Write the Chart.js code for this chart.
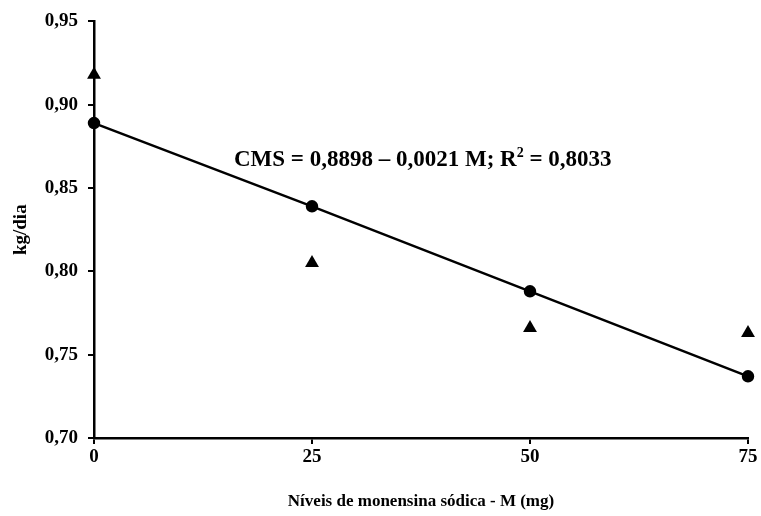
<!DOCTYPE html>
<html>
<head>
<meta charset="utf-8">
<script src="https://cdn.jsdelivr.net/npm/chart.js@4/dist/chart.umd.min.js"></script>
<style>
  html, body { margin: 0; padding: 0; background: #fff; }
  #wrap { width: 761px; height: 516px; }
</style>
</head>
<body>
<div id="wrap"><canvas id="chart" width="761" height="516"></canvas></div>
<script>
const levels = [0, 25, 50, 75];
const observed = [0.918, 0.805, 0.766, 0.763];
const fitted = [0.889, 0.839, 0.788, 0.737];
const yTicks = [0.70, 0.75, 0.80, 0.85, 0.90, 0.95];

const FONT = "'Liberation Serif', 'Times New Roman', serif";

function toPoints(xs, ys) {
  return xs.map((x, i) => ({ x: x, y: ys[i] }));
}

// equation label with superscript 2
const equationPlugin = {
  id: "equation",
  afterDatasetsDraw(chart) {
    const ctx = chart.ctx;
    const parts = [
      { t: "CMS = 0,8898 \u2013 0,0021 M; R", sup: false },
      { t: "2", sup: true },
      { t: " = 0,8033", sup: false }
    ];
    ctx.save();
    ctx.fillStyle = "#000";
    ctx.textBaseline = "alphabetic";
    let x = 234;
    const y = 166;
    parts.forEach((p) => {
      ctx.font = "bold " + (p.sup ? 14 : 23) + "px " + FONT;
      ctx.fillText(p.t, x, p.sup ? y - 9 : y);
      x += ctx.measureText(p.t).width;
    });
    ctx.restore();
  }
};

new Chart(document.getElementById("chart"), {
  type: "scatter",
  data: {
    datasets: [
      {
        label: "observado",
        data: toPoints(levels, observed),
        pointStyle: "triangle",
        pointRadius: 8,
        backgroundColor: "#000",
        borderColor: "#000",
        borderWidth: 0,
        showLine: false
      },
      {
        label: "estimado",
        data: toPoints(levels, fitted),
        pointStyle: "circle",
        pointRadius: 5,
        backgroundColor: "#000",
        borderColor: "#000",
        borderWidth: 2.5,
        showLine: true,
        tension: 0
      }
    ]
  },
  options: {
    responsive: false,
    animation: false,
    clip: false,
    layout: { padding: { top: 18, right: 13, left: 0, bottom: 0 } },
    plugins: {
      legend: { display: false },
      tooltip: { enabled: false }
    },
    scales: {
      x: {
        type: "linear",
        min: 0,
        max: 75,
        afterBuildTicks: (axis) => { axis.ticks = levels.map(v => ({ value: v })); },
        ticks: {
          color: "#000",
          padding: 2,
          font: { family: FONT, size: 19, weight: "bold" },
          callback: (v) => String(v)
        },
        grid: { drawOnChartArea: false, tickLength: 6, color: "#000", lineWidth: 2 },
        border: { color: "#000", width: 2.5 },
        title: {
          display: true,
          text: "Níveis de monensina sódica - M (mg)",
          color: "#000",
          font: { family: FONT, size: 17, weight: "bold" },
          padding: { top: 16, bottom: 4 }
        },
        afterFit: (axis) => { axis.height = 78; }
      },
      y: {
        type: "linear",
        min: 0.70,
        max: 0.95,
        afterBuildTicks: (axis) => { axis.ticks = yTicks.map(v => ({ value: v })); },
        ticks: {
          color: "#000",
          padding: 10,
          font: { family: FONT, size: 19, weight: "bold" },
          callback: (v) => v.toFixed(2).replace(".", ",")
        },
        grid: { drawOnChartArea: false, tickLength: 6, color: "#000", lineWidth: 2 },
        border: { color: "#000", width: 2.5 },
        title: {
          display: true,
          text: "kg/dia",
          color: "#000",
          font: { family: FONT, size: 19, weight: "bold" },
          padding: { top: 10, bottom: 0 }
        },
        afterFit: (axis) => { axis.width = 94; }
      }
    }
  },
  plugins: [equationPlugin]
});
</script>
</body>
</html>
